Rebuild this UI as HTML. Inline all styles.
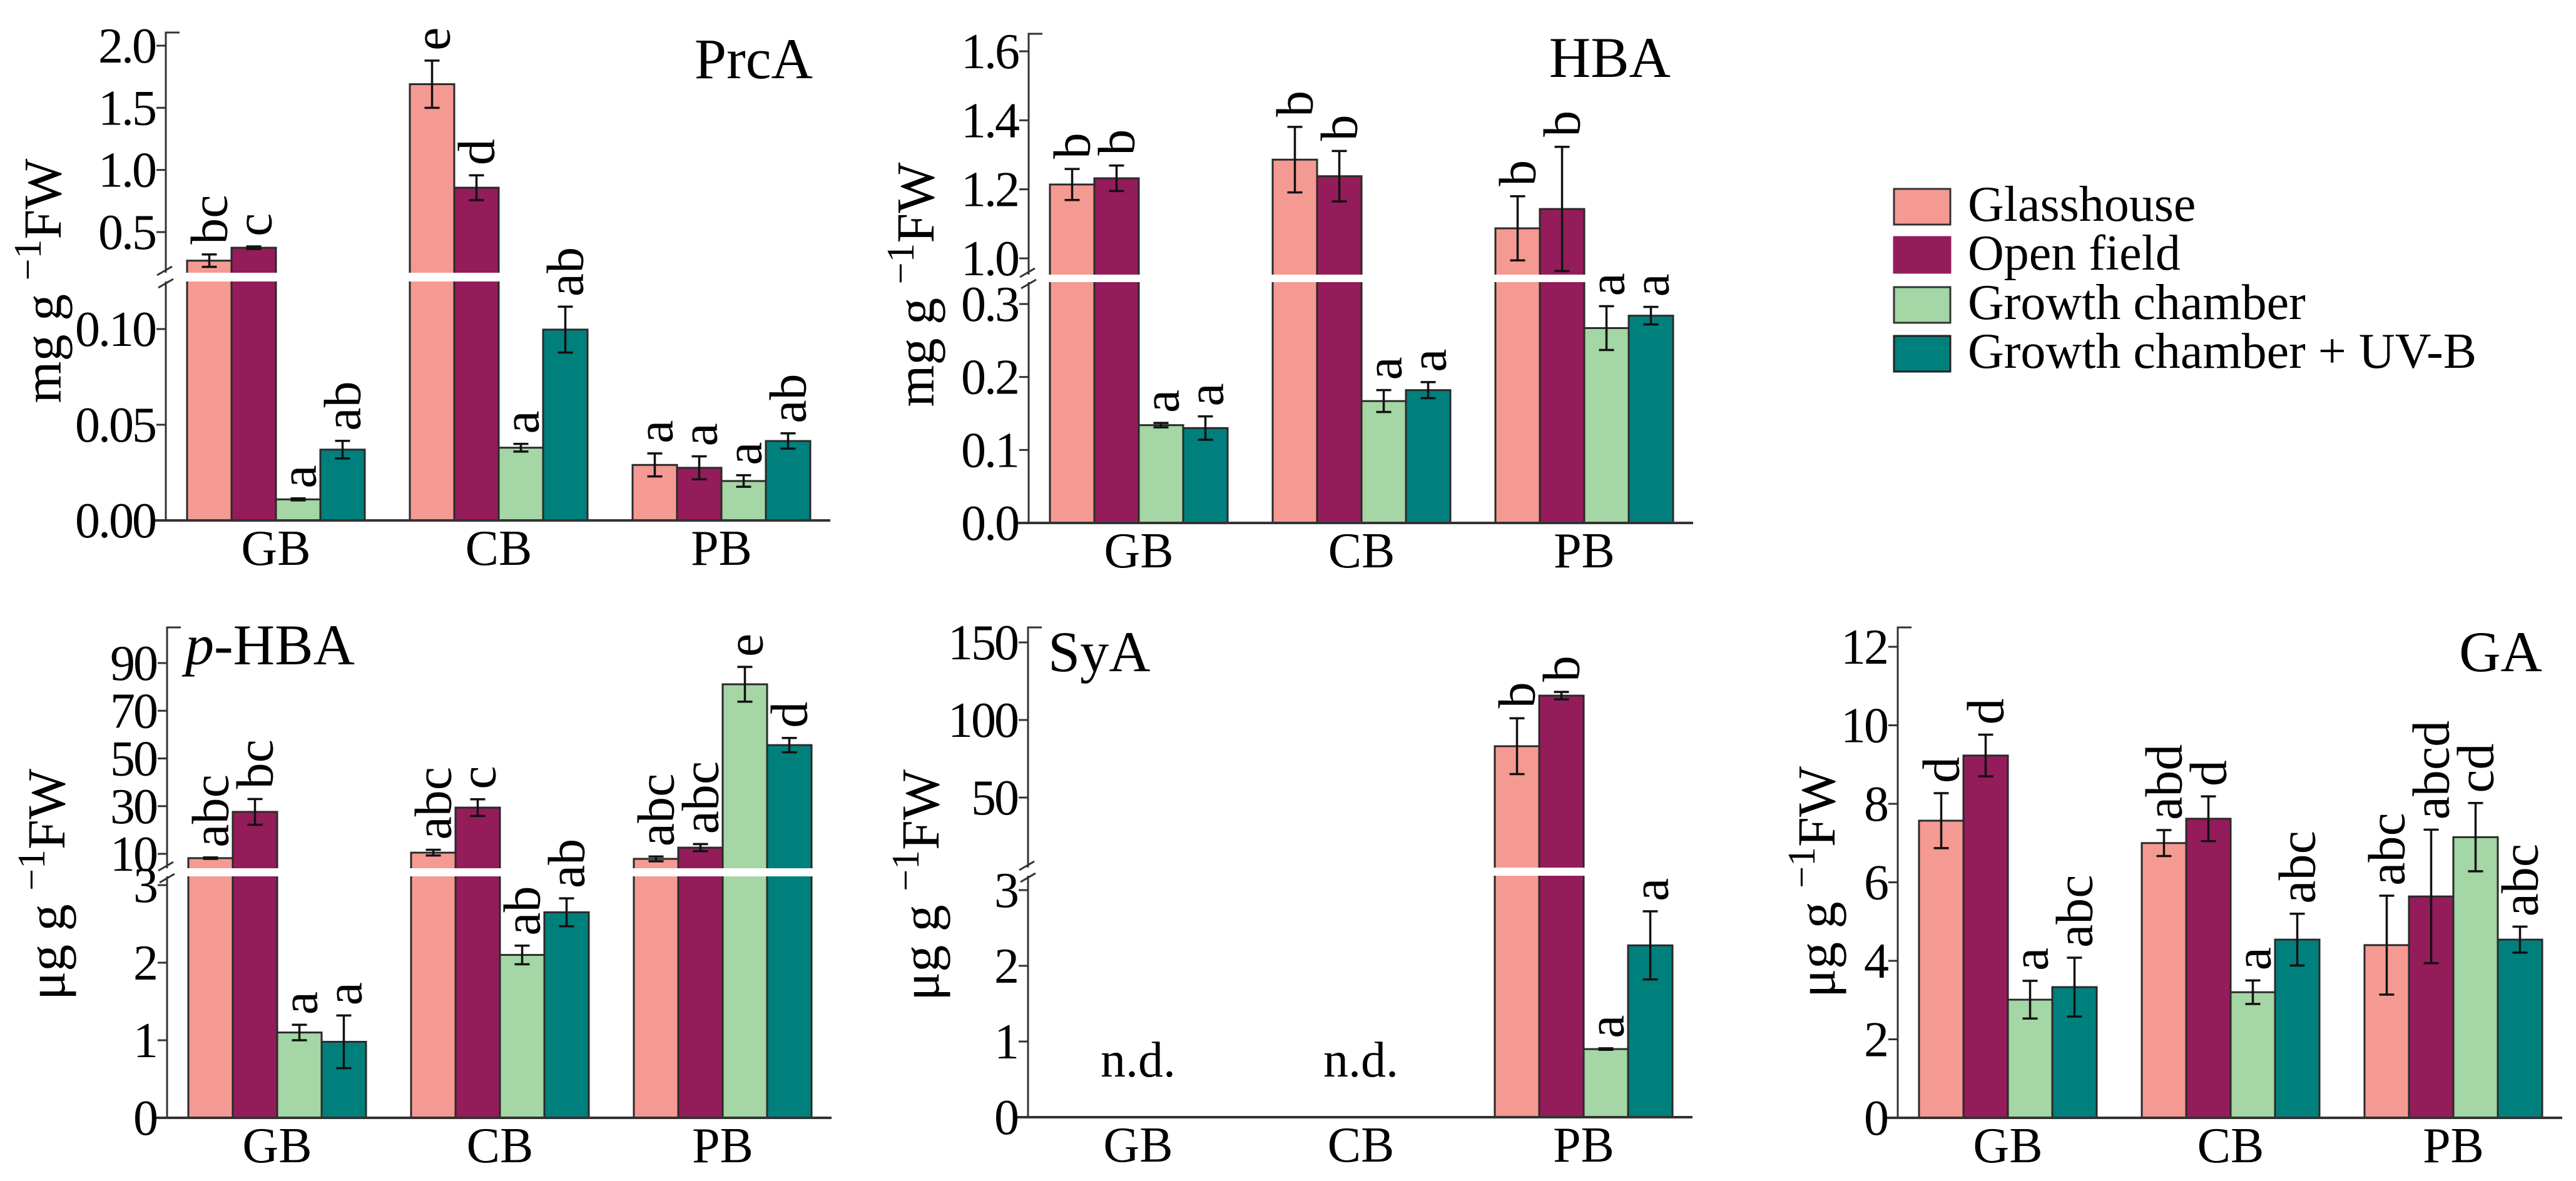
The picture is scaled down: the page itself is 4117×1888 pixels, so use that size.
<!DOCTYPE html>
<html><head><meta charset="utf-8"><title>Phenolic acids bar charts</title>
<style>
html,body{margin:0;padding:0;background:#fff;}
svg{display:block;}
svg, svg text, svg tspan{font-family:"Liberation Serif","DejaVu Serif","Times New Roman",serif;}
text{fill:#000;}
</style></head>
<body>
<svg id="fig" xmlns="http://www.w3.org/2000/svg" width="4117" height="1888" viewBox="0 0 4117 1888" font-family="Liberation Serif, serif">
  <g id="legend">
    <g><rect x="3027" y="302" width="90" height="57" fill="#f59a92" stroke="#333" stroke-width="3"/><text x="3145" y="353" font-size="80" font-family="Liberation Serif, serif">Glasshouse</text></g>
    <g><rect x="3027" y="379" width="90" height="57" fill="#941c5a" stroke="#941c5a" stroke-width="3"/><text x="3145" y="431" font-size="80" font-family="Liberation Serif, serif">Open field</text></g>
    <g><rect x="3027" y="459" width="90" height="57" fill="#a5d6a5" stroke="#333" stroke-width="3"/><text x="3145" y="510" font-size="80" font-family="Liberation Serif, serif">Growth chamber</text></g>
    <g><rect x="3027" y="537" width="90" height="57" fill="#00807c" stroke="#222" stroke-width="3"/><text x="3145" y="588" font-size="80" font-family="Liberation Serif, serif">Growth chamber + UV-B</text></g>
  </g>
</svg>
<script>
// Shared categories and series
const categories = ["GB", "CB", "PB"];
const seriesNames = ["Glasshouse", "Open field", "Growth chamber", "Growth chamber + UV-B"];

// PrcA (mg g-1 FW); rows = GB, CB, PB; cols = series
const prcaValues = [[0.27, 0.374, 0.011, 0.037], [1.69, 0.857, 0.038, 0.0997], [0.029, 0.0275, 0.0206, 0.0415]];
const prcaErrors = [[0.05, 0.01, 0.0005, 0.0046], [0.19, 0.1, 0.002, 0.012], [0.006, 0.006, 0.003, 0.004]];
const prcaLetters = [["bc", "c", "a", "ab"], ["e", "d", "a", "ab"], ["a", "a", "a", "ab"]];
const prcaUpperTicks = ["0.5", "1.0", "1.5", "2.0"];
const prcaLowerTicks = ["0.00", "0.05", "0.10"];

// HBA (mg g-1 FW)
const hbaValues = [[1.214, 1.232, 0.134, 0.130], [1.286, 1.238, 0.167, 0.182], [1.087, 1.143, 0.267, 0.284]];
const hbaErrors = [[0.045, 0.037, 0.003, 0.016], [0.095, 0.073, 0.015, 0.011], [0.093, 0.18, 0.03, 0.012]];
const hbaLetters = [["b", "b", "a", "a"], ["b", "b", "a", "a"], ["b", "b", "a", "a"]];
const hbaUpperTicks = ["1.0", "1.2", "1.4", "1.6"];
const hbaLowerTicks = ["0.0", "0.1", "0.2", "0.3"];

// p-HBA (ug g-1 FW)
const phbaValues = [[8.2, 27.6, 1.10, 0.98], [10.5, 29.4, 2.10, 2.65], [7.9, 12.6, 81.1, 55.6]];
const phbaErrors = [[0.3, 5.4, 0.1, 0.34], [1.2, 3.5, 0.12, 0.18], [1.0, 1.5, 7.3, 3.0]];
const phbaLetters = [["abc", "bc", "a", "a"], ["abc", "c", "ab", "ab"], ["abc", "abc", "e", "d"]];
const phbaUpperTicks = ["10", "30", "50", "70", "90"];
const phbaLowerTicks = ["0", "1", "2", "3"];

// SyA (ug g-1 FW); null = not detected
const syaValues = [[null, null, null, null], [null, null, null, null], [83.1, 115.7, 0.90, 2.27]];
const syaErrors = [[0, 0, 0, 0], [0, 0, 0, 0], [18, 2.4, 0.01, 0.45]];
const syaLetters = [["", "", "", ""], ["", "", "", ""], ["b", "b", "a", "a"]];
const syaUpperTicks = ["50", "100", "150"];
const syaLowerTicks = ["0", "1", "2", "3"];

// GA (ug g-1 FW)
const gaValues = [[7.57, 9.23, 3.01, 3.33], [7.0, 7.62, 3.2, 4.54], [4.4, 5.64, 7.15, 4.54]];
const gaErrors = [[0.7, 0.53, 0.48, 0.75], [0.33, 0.57, 0.3, 0.66], [1.26, 1.7, 0.87, 0.33]];
const gaLetters = [["d", "d", "a", "abc"], ["abd", "d", "a", "abc"], ["abc", "abcd", "cd", "abc"]];
const gaTicks = ["0", "2", "4", "6", "8", "10", "12"];

const colors = ["#f59a92", "#941c5a", "#a5d6a5", "#00807c"];
const NS = "http://www.w3.org/2000/svg";
const svg = document.getElementById("fig");
const FONT = "Liberation Serif, DejaVu Serif, serif";

function mk(tag, attrs, parent) {
  const e = document.createElementNS(NS, tag);
  for (const k in attrs) e.setAttribute(k, attrs[k]);
  if (tag === "text") e.setAttribute("font-family", FONT);
  (parent || svg).appendChild(e);
  return e;
}

function drawPanel(p) {
  const g = mk("g", {});
  
  
  const barsG = mk("g", {}, g);
  
  
  const gapG = mk("g", {}, g);
  
  
  const overG = mk("g", {}, g);
  
  
  const ax = p.axisX, base = p.lower.y0;
  const yLower = v => p.lower.y0 + (v - p.lower.v0) * (p.lower.y1 - p.lower.y0) / (p.lower.v1 - p.lower.v0);
  const yUpper = p.upper ? (v => p.upper.y0 + (v - p.upper.v0) * (p.upper.y1 - p.upper.y0) / (p.upper.v1 - p.upper.v0)) : null;
  const y = v => {
    const yl = yLower(v);
    if (!p.upper || yl >= p.gapBot) return yl;
    return Math.min(yUpper(v), p.gapTop);
  };
  const bw = 71, gs = 356, off = 34;
  categories.forEach((cat, ci) => {
    const gx = ax + off + ci * gs;
    p.values[ci].forEach((v, si) => {
      if (v === null) return;
      const x = gx + si * bw;
      const yt = y(v);
      const r = mk("rect", {x: x, y: yt, width: bw, height: base - yt, fill: colors[si], stroke: "#2a2a2a", "stroke-width": 3}, barsG);
      
      
      const cx = x + bw / 2;
      const e = p.errors[ci][si];
      const y1 = y(v + e), y2 = y(Math.max(v - e, 0));
      const eb = mk("path", {d: `M${cx},${y1}V${y2}M${cx - 12},${y1}H${cx + 12}M${cx - 12},${y2}H${cx + 12}`, stroke: "#111", "stroke-width": 3.5, fill: "none"}, overG);
      
      
      const lt = p.letters[ci][si];
      if (lt) {
        const ly = y1 - 16;
        const t = mk("text", {x: 0, y: 0, "font-size": 84, transform: `translate(${cx + 28},${ly}) rotate(-90)`}, overG);
        t.textContent = lt;
        
        
      }
    });
    const cl = mk("text", {x: gx + 2 * bw, y: base + 71, "font-size": 80, "text-anchor": "middle"}, overG);
    cl.textContent = cat;
    
    
  });
  if (p.upper) {
    const gr = mk("rect", {x: ax - 30, y: p.gapTop, width: 1090, height: p.gapBot - p.gapTop, fill: "#fff"}, gapG);
    
    
  }
  const top = p.axisTop;
  const axisPath = p.upper
    ? `M${ax + 22},${top}H${ax}V${p.gapTop}M${ax},${p.gapBot}V${base}`
    : `M${ax + 22},${top}H${ax}V${base}`;
  const axl = mk("path", {d: axisPath, stroke: "#333", "stroke-width": 3, fill: "none"}, overG);
  
  
  const xl = mk("line", {x1: ax - 18, y1: base, x2: ax + 1062, y2: base, stroke: "#333", "stroke-width": 4}, overG);
  
  
  if (p.upper) {
    const bm = mk("path", {d: `M${ax - 14},${p.gapTop + 4}L${ax + 10},${p.gapTop - 10}M${ax - 12},${p.gapBot + 10}L${ax + 12},${p.gapBot - 4}`, stroke: "#333", "stroke-width": 3}, overG);
    
    
  }
  const tick = (lbl, yy) => {
    const tl = mk("line", {x1: ax - 15, y1: yy, x2: ax, y2: yy, stroke: "#333", "stroke-width": 3}, overG);
    
    
    const tt = mk("text", {x: ax - 17, y: yy + 27, "font-size": 80, "text-anchor": "end", "letter-spacing": -3}, overG);
    tt.textContent = lbl;
    
    
  };
  p.lowerTicks.forEach(l => tick(l, yLower(parseFloat(l))));
  if (p.upper) p.upperTicks.forEach(l => tick(l, yUpper(parseFloat(l))));
  const tt = mk("text", {x: p.title.x, y: p.title.y, "font-size": 92, "text-anchor": p.title.anchor}, overG);
  if (p.title.italicP) {
    const ip = mk("tspan", {"font-style": "italic"}, tt); ip.textContent = "p";
    const rest = mk("tspan", {}, tt); rest.textContent = "-HBA";
  } else tt.textContent = p.title.text;
  
  
  const yt = mk("text", {x: 0, y: 0, "font-size": 86, "text-anchor": "middle", transform: `translate(${p.ytitle.x},${p.ytitle.y}) rotate(-90)`}, overG);
  const s1 = mk("tspan", {}, yt); s1.textContent = p.unit + " g ";
  const s2 = mk("tspan", {dy: -32, "font-size": 62}, yt); s2.textContent = "\u22121";
  const s3 = mk("tspan", {dy: 32}, yt); s3.textContent = "FW";
  
  
  (p.nd || []).forEach(ci => {
    const nd = mk("text", {x: ax + off + ci * gs + 142, y: 1721, "font-size": 80, "text-anchor": "middle"}, overG);
    nd.textContent = "n.d.";
    
    
  });
}

drawPanel({name: "prca", axisX: 265, axisTop: 52, values: prcaValues, errors: prcaErrors, letters: prcaLetters,
  lower: {v0: 0, y0: 832, v1: 0.1, y1: 526}, upper: {v0: 0.5, y0: 371, v1: 2.0, y1: 73}, gapTop: 436, gapBot: 450,
  lowerTicks: prcaLowerTicks, upperTicks: prcaUpperTicks,
  title: {text: "PrcA", x: 1299, y: 125, anchor: "end"}, ytitle: {x: 97, y: 449}, unit: "mg"});
drawPanel({name: "hba", axisX: 1644, axisTop: 54, values: hbaValues, errors: hbaErrors, letters: hbaLetters,
  lower: {v0: 0, y0: 836, v1: 0.3, y1: 486}, upper: {v0: 1.0, y0: 413, v1: 1.6, y1: 82}, gapTop: 439, gapBot: 451,
  lowerTicks: hbaLowerTicks, upperTicks: hbaUpperTicks,
  title: {text: "HBA", x: 2670, y: 123, anchor: "end"}, ytitle: {x: 1492, y: 455}, unit: "mg"});
drawPanel({name: "p-hba", axisX: 267, axisTop: 1003, values: phbaValues, errors: phbaErrors, letters: phbaLetters,
  lower: {v0: 0, y0: 1787, v1: 3, y1: 1415}, upper: {v0: 10, y0: 1365, v1: 90, y1: 1060}, gapTop: 1388, gapBot: 1401,
  lowerTicks: phbaLowerTicks, upperTicks: phbaUpperTicks,
  title: {italicP: true, x: 296, y: 1062, anchor: "start"}, ytitle: {x: 103, y: 1414}, unit: "\u03bcg"});
drawPanel({name: "sya", axisX: 1643, axisTop: 1003, values: syaValues, errors: syaErrors, letters: syaLetters,
  lower: {v0: 0, y0: 1786, v1: 3, y1: 1423}, upper: {v0: 50, y0: 1275, v1: 150, y1: 1027}, gapTop: 1387, gapBot: 1400,
  lowerTicks: syaLowerTicks, upperTicks: syaUpperTicks, nd: [0, 1],
  title: {text: "SyA", x: 1675, y: 1073, anchor: "start"}, ytitle: {x: 1500, y: 1415}, unit: "\u03bcg"});
drawPanel({name: "ga", axisX: 3033, axisTop: 1003, values: gaValues, errors: gaErrors, letters: gaLetters,
  lower: {v0: 0, y0: 1787, v1: 12, y1: 1034}, upper: null,
  lowerTicks: gaTicks,
  title: {text: "GA", x: 4063, y: 1073, anchor: "end"}, ytitle: {x: 2932, y: 1410}, unit: "\u03bcg"});
</script>
</body></html>
